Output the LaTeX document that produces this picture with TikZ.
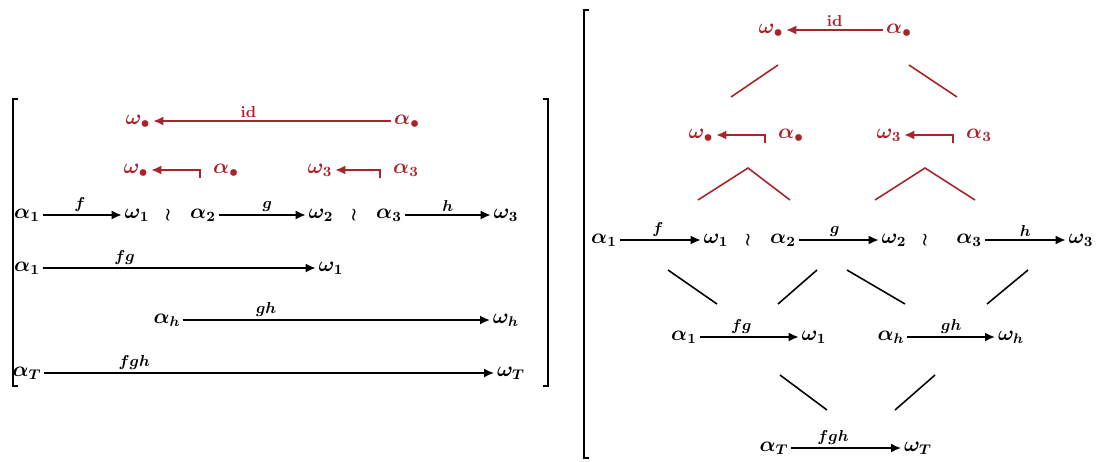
\documentclass[tikz,border=0pt]{standalone}
\usetikzlibrary{arrows.meta, calc, positioning}
\definecolor{diagRed}{HTML}{A8242A}
\tikzset{
  obj/.style      = {inner sep=1.5pt, font=\large\boldmath},
  redobj/.style   = {obj, diagRed},
  mapline/.style  = {-{Latex[length=2mm, width=1.8mm]}, line width=1pt, black},
  redmap/.style   = {mapline, diagRed},
  lbl/.style      = {font=\small\boldmath, inner sep=1.5pt},
  redlbl/.style   = {lbl, diagRed},
  sep/.style      = {inner sep=0pt, font=\boldmath},
  tie/.style      = {line width=0.9pt, black},
  redtie/.style   = {tie, diagRed},
  brk/.style      = {line width=1.5pt, black},
}

\begin{document}
\begin{tikzpicture}[x=0.02cm,y=-0.02cm]
  \useasboundingbox (0,0) rectangle (1102,461);

  % left: brackets
  \draw[brk] (18,99) -- (13,99) -- (13,386) -- (18,386);
  \draw[brk] (543,99) -- (548,99) -- (548,386) -- (543,386);

  % left: red part
  \node[redobj] (wS) at (138,121) {$\omega_\bullet$};
  \node[redobj] (aS) at (407,121) {$\alpha_\bullet$};
  \draw[redmap] (aS) -- (wS) node[pos=0.6, above, redlbl] {$\mathrm{id}$};
  \node[redobj] (wSa) at (136,170) {$\omega_\bullet$};
  \node[redobj] (aSa) at (226,170) {$\alpha_\bullet$};
  \draw[redmap] ($(aSa.west)+(-10,8)$) |- (wSa);
  \node[redobj] (wTa) at (320,170) {$\omega_3$};
  \node[redobj] (aTa) at (406,170) {$\alpha_3$};
  \draw[redmap] ($(aTa.west)+(-10,8)$) |- (wTa);

  % left: first row
  \node[obj] (a1) at (27,215) {$\alpha_1$};
  \node[obj] (w1) at (137,215) {$\omega_1$};
  \node[sep] (s1) at (168,215) {$\wr$};
  \node[obj] (a2) at (203,215) {$\alpha_2$};
  \node[obj] (w2) at (321,215) {$\omega_2$};
  \node[sep] (s2) at (354,215) {$\wr$};
  \node[obj] (a3) at (389,215) {$\alpha_3$};
  \node[obj] (w3) at (506,215) {$\omega_3$};
  \draw[mapline] (a1) -- (w1) node[pos=0.47, above, lbl] {$f$};
  \draw[mapline] (a2) -- (w2) node[pos=0.56, above, lbl] {$g$};
  \draw[mapline] (a3) -- (w3) node[midway, above, lbl] {$h$};

  % left: composites
  \node[obj] (a12) at (27,268) {$\alpha_1$};
  \node[obj] (w12) at (331,268) {$\omega_1$};
  \draw[mapline] (a12) -- (w12) node[pos=0.3, above, lbl] {$fg$};
  \node[obj] (a23) at (167,320) {$\alpha_h$};
  \node[obj] (w23) at (506,320) {$\omega_h$};
  \draw[mapline] (a23) -- (w23) node[pos=0.27, above, lbl] {$gh$};
  \node[obj] (aT) at (27,373) {$\alpha_T$};
  \node[obj] (wT) at (511,373) {$\omega_T$};
  \draw[mapline] (aT) -- (wT) node[pos=0.2, above, lbl] {$fgh$};

  % right: bracket
  \draw[brk] (589,10) -- (584,10) -- (584,458) -- (589,458);

  % right: red part
  \node[redobj] (rwS) at (771,30) {$\omega_\bullet$};
  \node[redobj] (raS) at (899,30) {$\alpha_\bullet$};
  \draw[redmap] (raS) -- (rwS) node[pos=0.5, above, redlbl] {$\mathrm{id}$};
  \node[redobj] (rwSa) at (701,135) {$\omega_\bullet$};
  \node[redobj] (raSa) at (791,135) {$\alpha_\bullet$};
  \draw[redmap] ($(raSa.west)+(-10,8)$) |- (rwSa);
  \node[redobj] (rwTa) at (889,135) {$\omega_3$};
  \node[redobj] (raTa) at (979,135) {$\alpha_3$};
  \draw[redmap] ($(raTa.west)+(-10,8)$) |- (rwTa);
  \coordinate (t1) at (778,65);  \coordinate (t2) at (731,97);
  \coordinate (t3) at (909,65);  \coordinate (t4) at (957,97);
  \draw[redtie] (t1) -- (t2);
  \draw[redtie] (t3) -- (t4);
  \coordinate (v1) at (698,200); \coordinate (v2) at (748,168); \coordinate (v3) at (790,200);
  \coordinate (v4) at (875,200); \coordinate (v5) at (925,168); \coordinate (v6) at (975,200);
  \draw[redtie] (v1) -- (v2) -- (v3);
  \draw[redtie] (v4) -- (v5) -- (v6);

  % right: first row
  \node[obj] (ra1) at (604,240) {$\alpha_1$};
  \node[obj] (rw1) at (716,240) {$\omega_1$};
  \node[sep] (rs1) at (748,240) {$\wr$};
  \node[obj] (ra2) at (783,240) {$\alpha_2$};
  \node[obj] (rw2) at (894,240) {$\omega_2$};
  \node[sep] (rs2) at (925,240) {$\wr$};
  \node[obj] (ra3) at (969,240) {$\alpha_3$};
  \node[obj] (rw3) at (1081,240) {$\omega_3$};
  \draw[mapline] (ra1) -- (rw1) node[pos=0.47, above, lbl] {$f$};
  \draw[mapline] (ra2) -- (rw2) node[pos=0.45, above, lbl] {$g$};
  \draw[mapline] (ra3) -- (rw3) node[midway, above, lbl] {$h$};

  % right: ties down to the composites
  \coordinate (d1) at (668,270); \coordinate (d2) at (717,304);
  \coordinate (d3) at (817,270); \coordinate (d4) at (778,304);
  \coordinate (d5) at (847,270); \coordinate (d6) at (905,304);
  \coordinate (d7) at (1028,270); \coordinate (d8) at (987,304);
  \draw[tie] (d1) -- (d2);
  \draw[tie] (d3) -- (d4);
  \draw[tie] (d5) -- (d6);
  \draw[tie] (d7) -- (d8);

  \node[obj] (ra12) at (684,337) {$\alpha_1$};
  \node[obj] (rw12) at (814,337) {$\omega_1$};
  \draw[mapline] (ra12) -- (rw12) node[pos=0.42, above, lbl] {$fg$};
  \node[obj] (ra23) at (891,337) {$\alpha_h$};
  \node[obj] (rw23) at (1011,337) {$\omega_h$};
  \draw[mapline] (ra23) -- (rw23) node[midway, above, lbl] {$gh$};

  \coordinate (e1) at (780,375); \coordinate (e2) at (827,410);
  \coordinate (e3) at (935,375); \coordinate (e4) at (895,410);
  \draw[tie] (e1) -- (e2);
  \draw[tie] (e3) -- (e4);

  \node[obj] (raT) at (774,448) {$\alpha_T$};
  \node[obj] (rwT) at (918,448) {$\omega_T$};
  \draw[mapline] (raT) -- (rwT) node[pos=0.38, above, lbl] {$fgh$};
\end{tikzpicture}
\end{document}
